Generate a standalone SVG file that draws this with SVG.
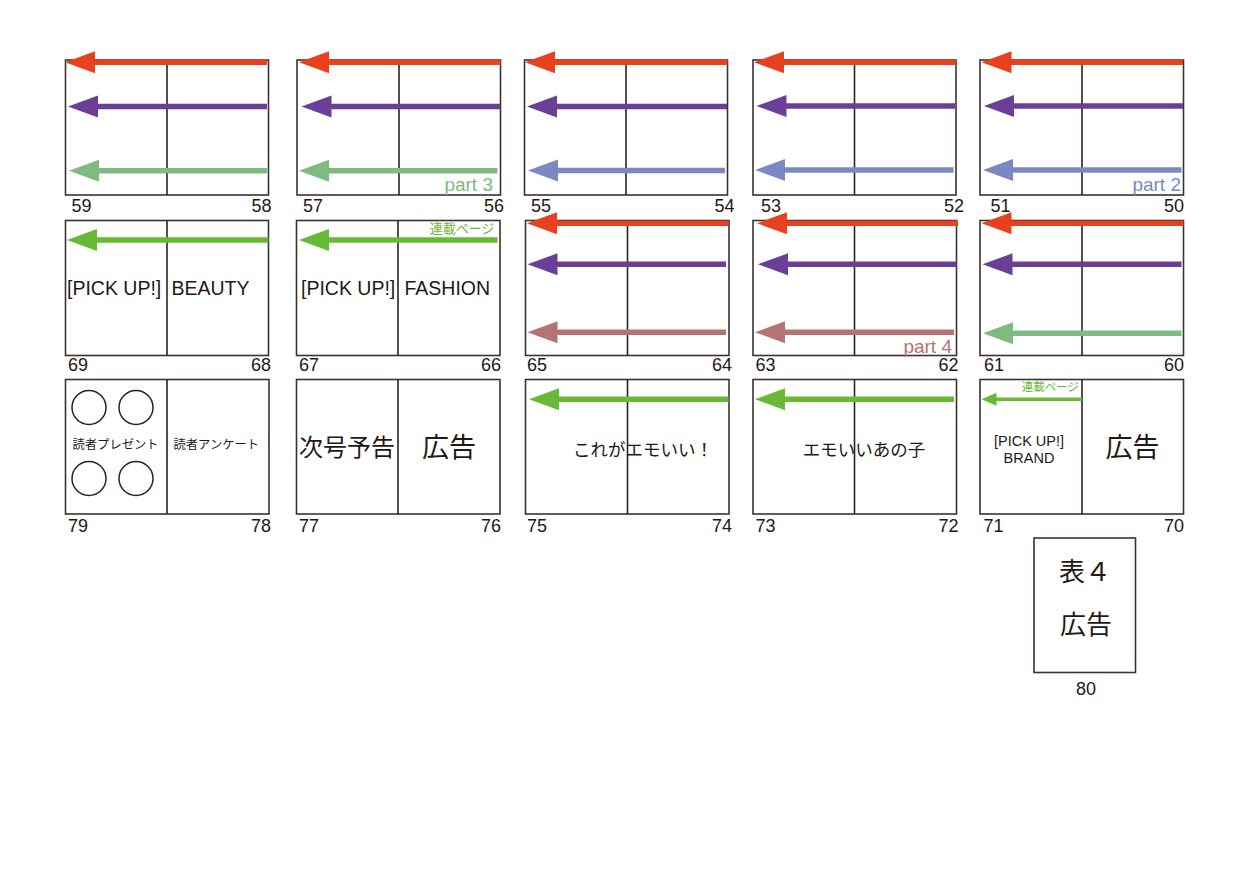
<svg xmlns="http://www.w3.org/2000/svg" width="1250" height="884" viewBox="0 0 1250 884">
<style>
.pg{fill:none;stroke:#3b3232;stroke-width:1.6}
.dv{stroke:#2a2222;stroke-width:1.6}
.num{font-family:"Liberation Sans",Arial,sans-serif;font-size:18px;fill:#231815}
.ttl{font-family:"Liberation Sans","Noto Sans CJK JP",sans-serif;fill:#231815}
.jp{font-family:"Noto Sans CJK JP","Liberation Sans",sans-serif;fill:#231815}
.ar{stroke-width:5.5;fill:none}
.red{stroke:#e8411e;marker-end:url(#hRed)}
.pur{stroke:#6b3f97;marker-end:url(#hPur)}
.lgr{stroke:#7dbb80;marker-end:url(#hLgr)}
.blu{stroke:#7b88c3;marker-end:url(#hBlu)}
.mau{stroke:#b47473;marker-end:url(#hMau)}
.grn{stroke:#68b936;marker-end:url(#hGrn)}
.sgr{stroke:#68b936;stroke-width:3.6;fill:none;marker-end:url(#hSgr)}
.part{font-family:"Liberation Sans",Arial,sans-serif;font-size:19px;text-anchor:end}
.ren{font-family:"Noto Sans CJK JP",sans-serif;fill:#68b936;text-anchor:end}
.cir{fill:none;stroke:#2a2222;stroke-width:1.5}
</style>
<defs>
<marker id="hRed" markerUnits="userSpaceOnUse" markerWidth="32" markerHeight="24" refX="1" refY="11" orient="auto" overflow="visible"><path d="M0,0 L30,11 L0,22 z" fill="#e8411e"/></marker>
<marker id="hPur" markerUnits="userSpaceOnUse" markerWidth="32" markerHeight="24" refX="1" refY="11" orient="auto" overflow="visible"><path d="M0,0 L30,11 L0,22 z" fill="#6b3f97"/></marker>
<marker id="hLgr" markerUnits="userSpaceOnUse" markerWidth="32" markerHeight="24" refX="1" refY="11" orient="auto" overflow="visible"><path d="M0,0 L30,11 L0,22 z" fill="#7dbb80"/></marker>
<marker id="hBlu" markerUnits="userSpaceOnUse" markerWidth="32" markerHeight="24" refX="1" refY="11" orient="auto" overflow="visible"><path d="M0,0 L30,11 L0,22 z" fill="#7b88c3"/></marker>
<marker id="hMau" markerUnits="userSpaceOnUse" markerWidth="32" markerHeight="24" refX="1" refY="11" orient="auto" overflow="visible"><path d="M0,0 L30,11 L0,22 z" fill="#b47473"/></marker>
<marker id="hGrn" markerUnits="userSpaceOnUse" markerWidth="32" markerHeight="24" refX="1" refY="11" orient="auto" overflow="visible"><path d="M0,0 L30,11 L0,22 z" fill="#68b936"/></marker>
<marker id="hSgr" markerUnits="userSpaceOnUse" markerWidth="17" markerHeight="14" refX="1" refY="6.5" orient="auto" overflow="visible"><path d="M0,0 L15,6.5 L0,13 z" fill="#68b936"/></marker>
</defs>
<rect width="1250" height="884" fill="#ffffff"/>

<!-- Row 1 -->
<g id="p58-59">
<rect class="pg" x="65.5" y="60" width="203" height="135"/>
<line class="dv" x1="167" y1="60" x2="167" y2="195"/>
<text class="num" x="71.5" y="211.5">59</text>
<text class="num" x="271.5" y="211.5" text-anchor="end">58</text>
</g>
<g id="p56-57">
<rect class="pg" x="297" y="60" width="203.5" height="135"/>
<line class="dv" x1="399" y1="60" x2="399" y2="195"/>
<text class="num" x="303" y="211.5">57</text>
<text class="num" x="504" y="211.5" text-anchor="end">56</text>
<text class="part" x="493" y="191" fill="#7dbb80">part 3</text>
</g>
<g id="p54-55">
<rect class="pg" x="524.5" y="60" width="203" height="135"/>
<line class="dv" x1="626" y1="60" x2="626" y2="195"/>
<text class="num" x="531" y="211.5">55</text>
<text class="num" x="734.5" y="211.5" text-anchor="end">54</text>
</g>
<g id="p52-53">
<rect class="pg" x="753" y="60" width="203" height="135"/>
<line class="dv" x1="854.5" y1="60" x2="854.5" y2="195"/>
<text class="num" x="761" y="211.5">53</text>
<text class="num" x="964" y="211.5" text-anchor="end">52</text>
</g>
<g id="p50-51">
<rect class="pg" x="980" y="60" width="203.5" height="135"/>
<line class="dv" x1="1082" y1="60" x2="1082" y2="195"/>
<text class="num" x="990.5" y="211.5">51</text>
<text class="num" x="1184" y="211.5" text-anchor="end">50</text>
<text class="part" x="1181" y="191" fill="#7b88c3">part 2</text>
</g>

<!-- Row 2 -->
<g id="p68-69">
<rect class="pg" x="65.5" y="220.5" width="203" height="135"/>
<line class="dv" x1="167" y1="220.5" x2="167" y2="355.5"/>
<text class="num" x="68" y="371">69</text>
<text class="num" x="271" y="371" text-anchor="end">68</text>
<text class="ttl" x="67" y="295" font-size="19.5">[PICK UP!]</text>
<text class="ttl" x="171.5" y="295" font-size="19.5">BEAUTY</text>
</g>
<g id="p66-67">
<rect class="pg" x="296.5" y="220.5" width="203.5" height="135"/>
<line class="dv" x1="398" y1="220.5" x2="398" y2="355.5"/>
<text class="num" x="299" y="371">67</text>
<text class="num" x="501" y="371" text-anchor="end">66</text>
<text class="ren" x="494.5" y="233" font-size="13">連載ページ</text>
<text class="ttl" x="301" y="295" font-size="19.5">[PICK UP!]</text>
<text class="ttl" x="404.5" y="295" font-size="19.5">FASHION</text>
</g>
<g id="p64-65">
<rect class="pg" x="525.5" y="220.5" width="203.5" height="135"/>
<line class="dv" x1="627.5" y1="220.5" x2="627.5" y2="355.5"/>
<text class="num" x="527" y="371">65</text>
<text class="num" x="732" y="371" text-anchor="end">64</text>
</g>
<g id="p62-63">
<rect class="pg" x="753" y="220.5" width="203.5" height="135"/>
<line class="dv" x1="854.5" y1="220.5" x2="854.5" y2="355.5"/>
<text class="num" x="755.5" y="371">63</text>
<text class="num" x="958.5" y="371" text-anchor="end">62</text>
<text class="part" x="952" y="352.5" fill="#b47473">part 4</text>
</g>
<g id="p60-61">
<rect class="pg" x="980" y="220.5" width="203.5" height="135"/>
<line class="dv" x1="1082" y1="220.5" x2="1082" y2="355.5"/>
<text class="num" x="984" y="371">61</text>
<text class="num" x="1184" y="371" text-anchor="end">60</text>
</g>

<!-- Row 3 -->
<g id="p78-79">
<rect class="pg" x="65.5" y="379.5" width="203.5" height="134.5"/>
<line class="dv" x1="167" y1="379.5" x2="167" y2="514"/>
<circle class="cir" cx="89" cy="407.5" r="17"/>
<circle class="cir" cx="136" cy="407.5" r="17"/>
<circle class="cir" cx="89" cy="478.5" r="17"/>
<circle class="cir" cx="136" cy="478.5" r="17"/>
<text class="jp" x="72.5" y="449" font-size="12.3">読者プレゼント</text>
<text class="jp" x="173.5" y="449" font-size="12.3">読者アンケート</text>
<text class="num" x="68" y="531.5">79</text>
<text class="num" x="271" y="531.5" text-anchor="end">78</text>
</g>
<g id="p76-77">
<rect class="pg" x="296.5" y="379.5" width="203.5" height="134.5"/>
<line class="dv" x1="398" y1="379.5" x2="398" y2="514"/>
<text class="jp" x="347" y="456" font-size="24" text-anchor="middle">次号予告</text>
<text class="jp" x="449" y="457" font-size="27" text-anchor="middle">広告</text>
<text class="num" x="299" y="531.5">77</text>
<text class="num" x="501" y="531.5" text-anchor="end">76</text>
</g>
<g id="p74-75">
<rect class="pg" x="525.5" y="379.5" width="203.5" height="134.5"/>
<line class="dv" x1="627.5" y1="379.5" x2="627.5" y2="514"/>
<text class="jp" x="573" y="456" font-size="17.5">これがエモいい！</text>
<text class="num" x="527" y="531.5">75</text>
<text class="num" x="732" y="531.5" text-anchor="end">74</text>
</g>
<g id="p72-73">
<rect class="pg" x="753" y="379.5" width="203.5" height="134.5"/>
<line class="dv" x1="854.5" y1="379.5" x2="854.5" y2="514"/>
<text class="jp" x="864" y="456" font-size="17.5" text-anchor="middle">エモいいあの子</text>
<text class="num" x="755.5" y="531.5">73</text>
<text class="num" x="958.5" y="531.5" text-anchor="end">72</text>
</g>
<g id="p70-71">
<rect class="pg" x="980" y="379.5" width="203.5" height="134.5"/>
<line class="dv" x1="1082" y1="379.5" x2="1082" y2="514"/>
<text class="ren" x="1079" y="390.5" font-size="11.5">連載ページ</text>
<text class="ttl" x="1029" y="445.5" font-size="14.5" text-anchor="middle">[PICK UP!]</text>
<text class="ttl" x="1029" y="462.5" font-size="14.5" text-anchor="middle">BRAND</text>
<text class="jp" x="1132.5" y="457" font-size="27" text-anchor="middle">広告</text>
<text class="num" x="983.5" y="531.5">71</text>
<text class="num" x="1184" y="531.5" text-anchor="end">70</text>
</g>
<g id="p80">
<rect class="pg" x="1034" y="538" width="101.5" height="134.5"/>
<text class="jp" x="1085" y="581" font-size="26" text-anchor="middle">表４</text>
<text class="jp" x="1086" y="634" font-size="26" text-anchor="middle">広告</text>
<text class="num" x="1086" y="695" text-anchor="middle">80</text>
</g>

<g id="connectors">
<!-- row 1 -->
<line class="ar red" x1="267" y1="62.3" x2="94" y2="62.3"/>
<line class="ar pur" x1="267" y1="106.5" x2="97" y2="106.5"/>
<line class="ar lgr" x1="267" y1="170.7" x2="98" y2="170.7"/>
<line class="ar red" x1="500.5" y1="62.3" x2="328" y2="62.3"/>
<line class="ar pur" x1="500" y1="106.5" x2="330.5" y2="106.5"/>
<line class="ar lgr" x1="497.5" y1="170.7" x2="328" y2="170.7"/>
<line class="ar red" x1="727.5" y1="62.3" x2="554" y2="62.3"/>
<line class="ar pur" x1="727" y1="106.5" x2="556" y2="106.5"/>
<line class="ar blu" x1="725" y1="170.5" x2="557" y2="170.5"/>
<line class="ar red" x1="956" y1="62.3" x2="783" y2="62.3"/>
<line class="ar pur" x1="956" y1="106" x2="785.5" y2="106"/>
<line class="ar blu" x1="953.5" y1="170" x2="784" y2="170"/>
<line class="ar red" x1="1183" y1="62.3" x2="1010.5" y2="62.3"/>
<line class="ar pur" x1="1183" y1="106" x2="1013" y2="106"/>
<line class="ar blu" x1="1181.5" y1="170" x2="1012" y2="170"/>
<!-- row 2 -->
<line class="ar grn" x1="268.5" y1="240" x2="96" y2="240"/>
<line class="ar grn" x1="497.5" y1="240" x2="328" y2="240"/>
<line class="ar red" x1="728.5" y1="223.3" x2="556" y2="223.3"/>
<line class="ar pur" x1="726" y1="264.3" x2="556.5" y2="264.3"/>
<line class="ar mau" x1="726" y1="332.3" x2="556.5" y2="332.3"/>
<line class="ar red" x1="958" y1="223.3" x2="786" y2="223.3"/>
<line class="ar pur" x1="956.5" y1="264.3" x2="787" y2="264.3"/>
<line class="ar mau" x1="954" y1="332.3" x2="784" y2="332.3"/>
<line class="ar red" x1="1183.5" y1="223.3" x2="1010.5" y2="223.3"/>
<line class="ar pur" x1="1181.5" y1="264.3" x2="1011.5" y2="264.3"/>
<line class="ar lgr" x1="1181.5" y1="333.3" x2="1012" y2="333.3"/>
<!-- row 3 -->
<line class="ar grn" x1="728.5" y1="399.3" x2="558" y2="399.3"/>
<line class="ar grn" x1="954" y1="399.3" x2="784" y2="399.3"/>
<line class="sgr" x1="1082" y1="399.3" x2="995.5" y2="399.3"/>
</g>
</svg>
